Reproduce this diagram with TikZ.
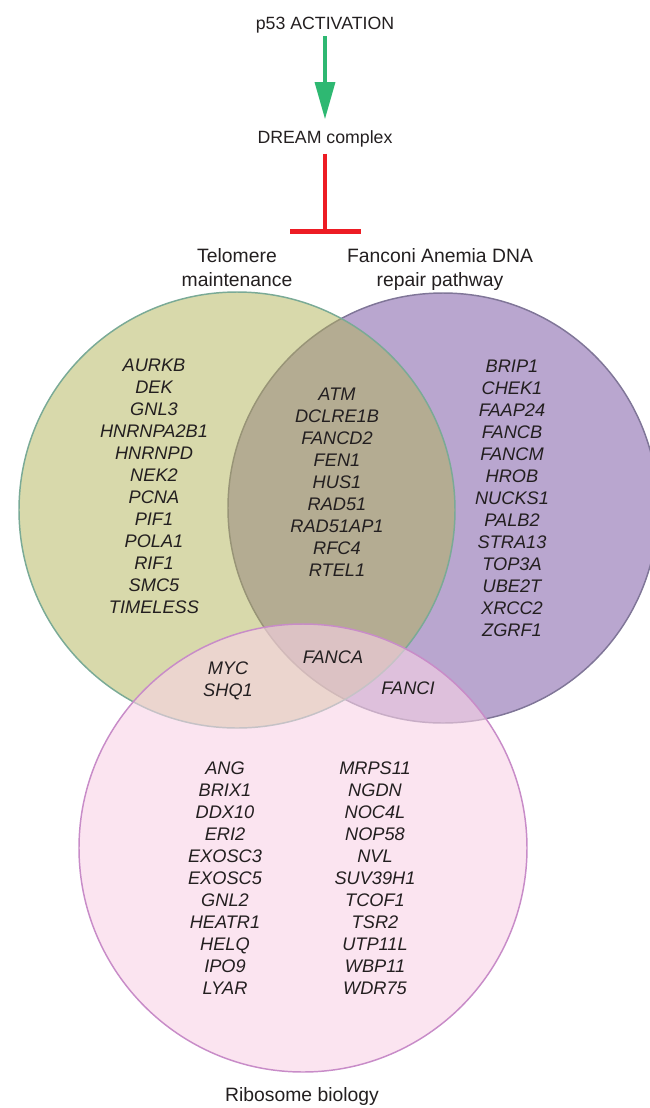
\documentclass[tikz,border=0pt]{standalone}
\usepackage{fontspec}
\setmainfont{Liberation Sans}
\usetikzlibrary{arrows.meta}
\definecolor{txt}{RGB}{35,31,32}
\definecolor{purpfill}{RGB}{185,166,207}
\definecolor{purpline}{RGB}{128,118,152}
\definecolor{olivebase}{RGB}{177,179,87}
\definecolor{oliveline}{RGB}{122,170,150}
\definecolor{pinkbase}{RGB}{248,210,230}
\definecolor{pinkline}{RGB}{200,140,200}
\definecolor{arrgreen}{RGB}{46,184,114}
\definecolor{inhred}{RGB}{237,28,36}
\begin{document}
\begin{tikzpicture}[x=0.75pt,y=-0.75pt,
  every node/.style={text=txt, inner sep=0pt, outer sep=0pt},
  genes/.style={font=\itshape\fontsize{13.65pt}{16.5pt}\selectfont, align=center, anchor=north},
  toplabel/.style={font=\fontsize{13.3pt}{16pt}\selectfont, anchor=base},
  setlabel/.style={font=\fontsize{14.5pt}{18pt}\selectfont, align=center},
  greenarr/.style={draw=arrgreen, line width=2.5pt, -{Triangle[length=27.75pt, width=15pt]}, shorten <=2.5pt, shorten >=8.25pt},
  redinh/.style={draw=inhred, line width=3pt, -{Bar[width=53.25pt, line width=3.5pt]}, shorten <=5.25pt}
]
\useasboundingbox (0,0) rectangle (650,1108);
\clip (0,0) rectangle (650,1108);

% circles
\draw[fill=purpfill, draw=purpline, line width=1.1pt] (443,508) circle[radius=215];
\draw[fill=olivebase, fill opacity=0.5, draw=oliveline, line width=1.1pt] (237,510) circle[radius=218];
\draw[fill=pinkbase, fill opacity=0.6, draw=pinkline, line width=1.1pt] (303,848) circle[radius=224];

% top
\node[toplabel] (p53) at (325,29) {p53 ACTIVATION};
\node[toplabel] (dream) at (325,143) {DREAM complex};
\coordinate (inh) at (325,234);
\draw[greenarr] (p53.south) -- (dream.north);
\draw[redinh] (dream.south) -- (inh);

% set labels
\node[setlabel, anchor=north] (telo) at (237,248) {Telomere\\maintenance};
\node[setlabel, anchor=north] (fanc) at (440,248) {Fanconi Anemia DNA\\repair pathway};
\node[setlabel, anchor=base] (ribo) at (302,1101) {Ribosome biology};

% gene lists
\node[genes] (gtelo) at (154,359) {AURKB\\DEK\\GNL3\\HNRNPA2B1\\HNRNPD\\NEK2\\PCNA\\PIF1\\POLA1\\RIF1\\SMC5\\TIMELESS};
\node[genes] (gtf) at (337,388) {ATM\\DCLRE1B\\FANCD2\\FEN1\\HUS1\\RAD51\\RAD51AP1\\RFC4\\RTEL1};
\node[genes] (gfa) at (512,360) {BRIP1\\CHEK1\\FAAP24\\FANCB\\FANCM\\HROB\\NUCKS1\\PALB2\\STRA13\\TOP3A\\UBE2T\\XRCC2\\ZGRF1};
\node[genes] (gtr) at (228,662) {MYC\\SHQ1};
\node[genes] (gall) at (333,651) {FANCA};
\node[genes] (gfr) at (408,682) {FANCI};
\node[genes] (gr1) at (225,762) {ANG\\BRIX1\\DDX10\\ERI2\\EXOSC3\\EXOSC5\\GNL2\\HEATR1\\HELQ\\IPO9\\LYAR};
\node[genes] (gr2) at (375,762) {MRPS11\\NGDN\\NOC4L\\NOP58\\NVL\\SUV39H1\\TCOF1\\TSR2\\UTP11L\\WBP11\\WDR75};
\end{tikzpicture}
\end{document}
